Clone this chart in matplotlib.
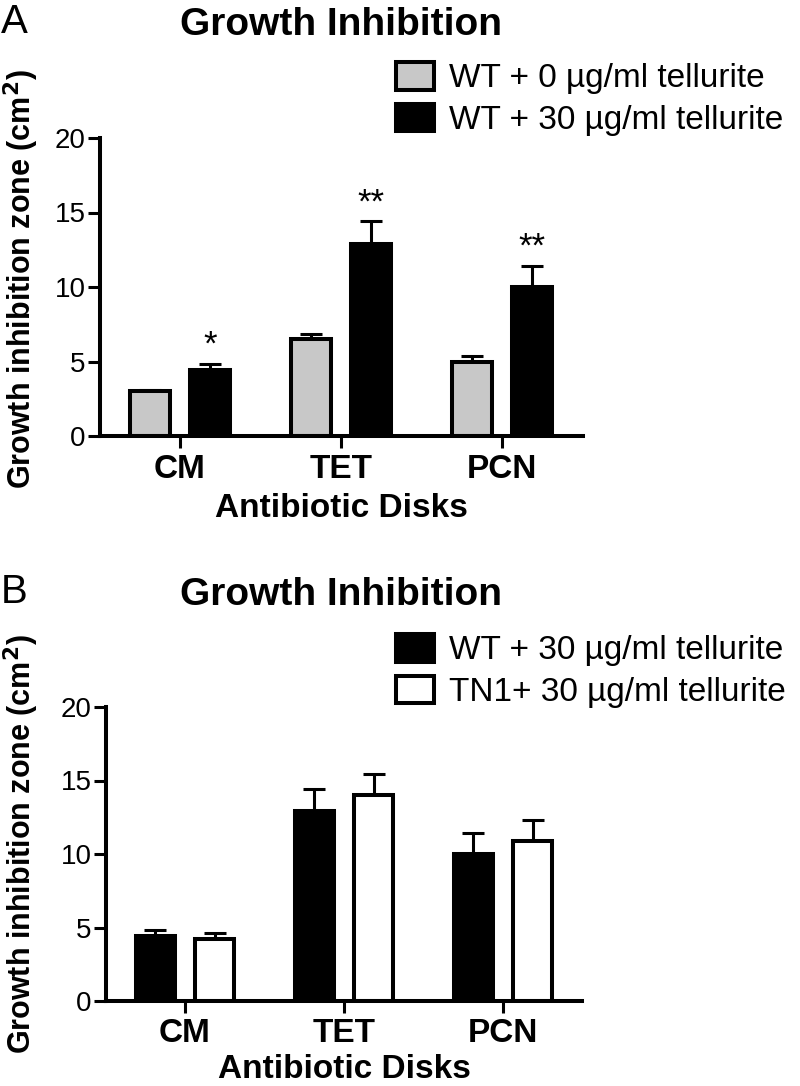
import matplotlib
matplotlib.use("Agg")
import matplotlib.pyplot as plt
from matplotlib.patches import Patch
import numpy as np

plt.rcParams['font.family'] = ['Liberation Sans', 'DejaVu Sans']

categories = ["CM", "TET", "PCN"]

# Panel A
a_wt0 = [3.0, 6.5, 4.95]
a_wt0_err = [0.12, 0.35, 0.45]
a_wt30 = [4.4, 12.9, 10.0]
a_wt30_err = [0.45, 1.5, 1.4]
a_stars = ["*", "**", "**"]

# Panel B
b_wt30 = [4.4, 12.9, 10.0]
b_wt30_err = [0.45, 1.5, 1.4]
b_tn1 = [4.2, 14.0, 10.9]
b_tn1_err = [0.4, 1.45, 1.4]

yticks = [0, 5, 10, 15, 20]

W, H = 800, 1086
fig = plt.figure(figsize=(W / 100, H / 100), dpi=100)

def fx(px):
    return px / W

def fy(py):
    return 1 - py / H

LW = 2.9
GRAY = "#c8c8c8"

def make_axes(left, right, top, bottom):
    return fig.add_axes([fx(left), fy(bottom), fx(right - left), (bottom - top) / H])

def style_axes(ax, xlabelpad):
    ax.set_xlim(-0.5, 2.5)
    ax.set_ylim(0, 20)
    for s in ["top", "right"]:
        ax.spines[s].set_visible(False)
    for s in ["left", "bottom"]:
        ax.spines[s].set_linewidth(LW)
        ax.spines[s].set_capstyle("projecting")
    ax.set_yticks(yticks)
    ax.set_yticklabels([str(t) for t in yticks], fontsize=20)
    ax.set_xticks(range(len(categories)))
    ax.set_xticklabels(categories, fontsize=24, fontweight="bold")
    ax.tick_params(axis="both", length=8.6, width=2.2, color="black")
    ax.tick_params(axis="y", pad=1.5)
    ax.tick_params(axis="x", pad=4)
    ax.set_xlabel("Antibiotic Disks", fontsize=24, fontweight="bold", labelpad=xlabelpad)
    ax.patch.set_alpha(0)

def draw_pair(ax, v1, e1, c1, v2, e2, c2):
    x = np.arange(len(categories))
    off = 0.1875
    bw = 0.245
    ax.errorbar(x - off, v1, yerr=e1, fmt="none", ecolor="black", elinewidth=2.2,
                capsize=7.9, capthick=2.2, zorder=1)
    ax.errorbar(x + off, v2, yerr=e2, fmt="none", ecolor="black", elinewidth=2.2,
                capsize=7.9, capthick=2.2, zorder=1)
    ax.bar(x - off, v1, bw, color=c1, edgecolor="black", linewidth=LW, zorder=2)
    ax.bar(x + off, v2, bw, color=c2, edgecolor="black", linewidth=LW, zorder=2)
    return x, off

YLABEL = "Growth inhibition zone (cm$^\\mathbf{2}$)"

# ---------- Panel A ----------
axA = make_axes(99.5, 582.5, 138, 436)
style_axes(axA, 6)
x, off = draw_pair(axA, a_wt0, a_wt0_err, GRAY, a_wt30, a_wt30_err, "black")
for xi, v, e, s in zip(x, a_wt30, a_wt30_err, a_stars):
    axA.text(xi + off, v + e + 1.25, s, ha="center", va="center", fontsize=25)

legA = [Patch(facecolor=GRAY, edgecolor="black", linewidth=LW, label="WT + 0 µg/ml tellurite"),
        Patch(facecolor="black", edgecolor="black", linewidth=LW, label="WT + 30 µg/ml tellurite")]
fig.legend(handles=legA, loc="upper left", bbox_to_anchor=(fx(396), fy(62)),
           frameon=False, fontsize=24, handlelength=1.15, handleheight=0.9,
           handletextpad=0.45, labelspacing=0.28, borderpad=0, borderaxespad=0)

fig.text(fx(341), fy(35), "Growth Inhibition", ha="center", va="baseline",
         fontsize=28, fontweight="bold")
fig.text(fx(1), fy(33), "A", ha="left", va="baseline", fontsize=29)
fig.text(fx(21), fy(279), YLABEL, rotation=90,
         ha="center", va="center", fontsize=22, fontweight="bold")

# ---------- Panel B ----------
axB = make_axes(105.5, 582.5, 707, 1001)
style_axes(axB, 3)
draw_pair(axB, b_wt30, b_wt30_err, "black", b_tn1, b_tn1_err, "white")

legB = [Patch(facecolor="black", edgecolor="black", linewidth=LW, label="WT + 30 µg/ml tellurite"),
        Patch(facecolor="white", edgecolor="black", linewidth=LW, label="TN1+ 30 µg/ml tellurite")]
fig.legend(handles=legB, loc="upper left", bbox_to_anchor=(fx(396), fy(634)),
           frameon=False, fontsize=24, handlelength=1.15, handleheight=0.9,
           handletextpad=0.45, labelspacing=0.28, borderpad=0, borderaxespad=0)

fig.text(fx(341), fy(605), "Growth Inhibition", ha="center", va="baseline",
         fontsize=28, fontweight="bold")
fig.text(fx(1), fy(603), "B", ha="left", va="baseline", fontsize=29)
fig.text(fx(21), fy(844), YLABEL, rotation=90,
         ha="center", va="center", fontsize=22, fontweight="bold")

fig.savefig("out.png", dpi=100)
